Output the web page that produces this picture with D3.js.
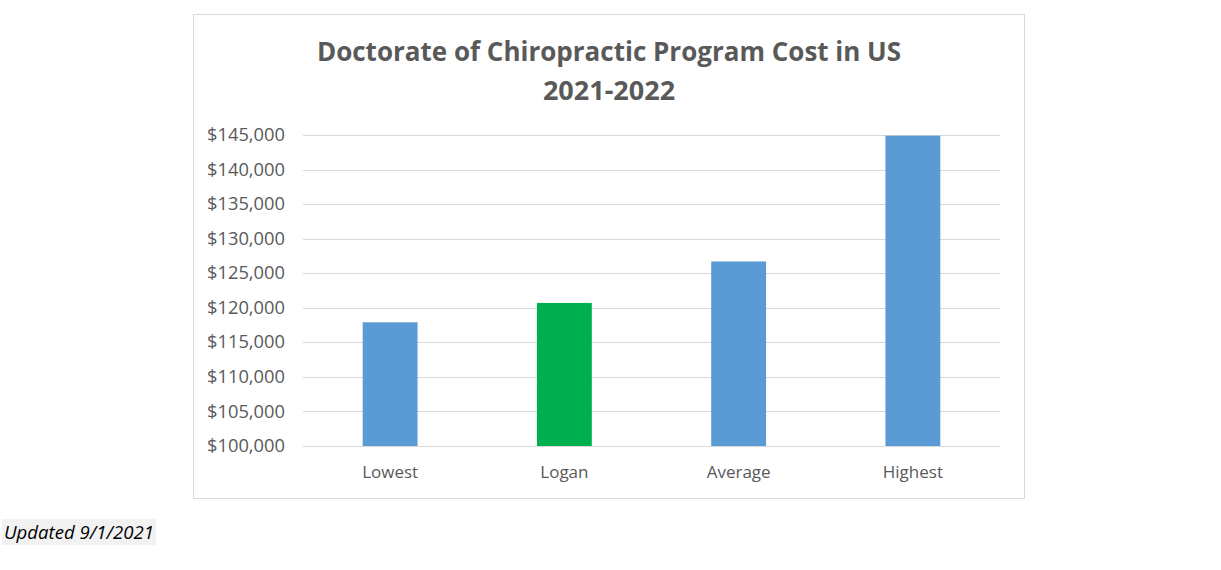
<!DOCTYPE html><html><head><meta charset="utf-8">
<script src="https://cdn.jsdelivr.net/npm/d3@7"></script>
<style>body{margin:0;background:#fff}</style></head><body>
<svg id="c" width="1221" height="570"></svg>
<script>
const categories=["Lowest","Logan","Average","Highest"];
const values=[117900,120700,126700,144900];
const colors=["#5b9bd5","#00b050","#5b9bd5","#5b9bd5"];
const tickValues=d3.range(100000,145001,5000);
const svg=d3.select("#c");
svg.append("rect").attr("x",193.5).attr("y",14.5).attr("width",831).attr("height",484).attr("fill","#fff").attr("stroke","#d9d9d9");
const x=d3.scaleBand().domain(categories).range([303,1000]).paddingInner(0.685).paddingOuter(0.3425);
const y=d3.scaleLinear().domain([100000,145000]).range([446,135]);
svg.append("g").selectAll("line").data(tickValues).join("line")
 .attr("x1",303).attr("x2",1000).attr("y1",d=>Math.round(y(d))+0.5).attr("y2",d=>Math.round(y(d))+0.5)
 .attr("stroke","#d9d9d9");
const ya=d3.axisLeft(y).tickValues(tickValues).tickSize(0).tickPadding(18).tickFormat(d=>"$"+d3.format(",")(d));
svg.append("g").attr("transform","translate(303,0)").call(ya).call(g=>g.select(".domain").remove())
 .selectAll("text").attr("fill","#595959").style("font-size","17.5px").style("font-family","'Open Sans', sans-serif").attr("textLength",78).attr("lengthAdjust","spacingAndGlyphs");
svg.append("g").selectAll("rect").data(values).join("rect")
 .attr("x",(d,i)=>x(categories[i])).attr("width",x.bandwidth())
 .attr("y",d=>y(d)).attr("height",d=>y(100000)-y(d)).attr("fill",(d,i)=>colors[i]);
const xa=d3.axisBottom(x).tickSize(0).tickPadding(20);
svg.append("g").attr("transform","translate(0,446)").call(xa).call(g=>g.select(".domain").remove())
 .selectAll("text").attr("fill","#595959").style("font-size","17px").style("font-family","'Open Sans', sans-serif");
svg.append("text").attr("x",609).attr("y",61).attr("text-anchor","middle").attr("fill","#595959")
 .style("font-size","26px").style("font-weight","bold").style("font-family","'Open Sans', sans-serif").text("Doctorate of Chiropractic Program Cost in US");
svg.append("text").attr("x",609).attr("y",100).attr("text-anchor","middle").attr("fill","#595959")
 .style("font-size","27px").style("font-weight","bold").style("font-family","'Open Sans', sans-serif").text("2021-2022");
svg.append("rect").attr("x",2).attr("y",519).attr("width",154).attr("height",26).attr("fill","#f2f2f2");
svg.append("text").attr("x",4).attr("y",539).attr("fill","#000").style("font-size","18px").style("font-style","italic")
 .style("font-family","'Open Sans', sans-serif").attr("textLength",150).attr("lengthAdjust","spacingAndGlyphs").text("Updated 9/1/2021");
</script></body></html>
